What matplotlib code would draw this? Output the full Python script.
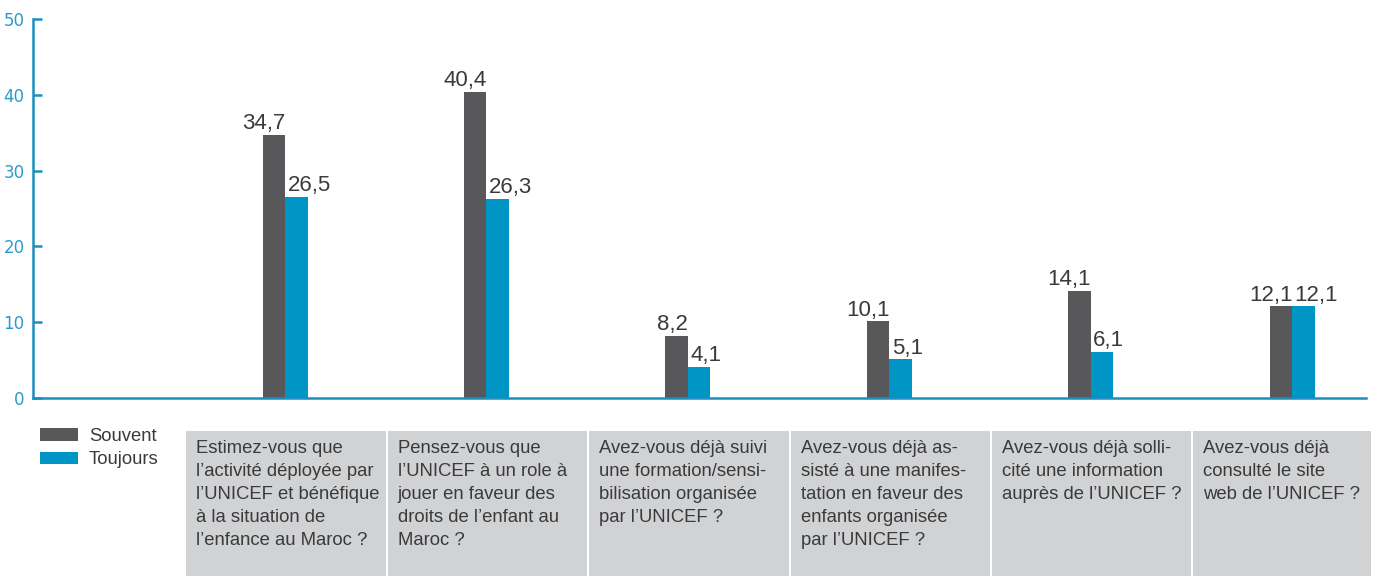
import numpy as np
import matplotlib
matplotlib.use('Agg')
import matplotlib.pyplot as plt
from matplotlib.patches import Rectangle, Patch
from matplotlib.transforms import blended_transform_factory

# data
questions = [
    "Estimez-vous que\nl\u2019activité déployée par\nl\u2019UNICEF et bénéfique\nà la situation de\nl\u2019enfance au Maroc ?",
    "Pensez-vous que\nl\u2019UNICEF à un role à\njouer en faveur des\ndroits de l\u2019enfant au\nMaroc ?",
    "Avez-vous déjà suivi\nune formation/sensi-\nbilisation organisée\npar l\u2019UNICEF ?",
    "Avez-vous déjà as-\nsisté à une manifes-\ntation en faveur des\nenfants organisée\npar l\u2019UNICEF ?",
    "Avez-vous déjà solli-\ncité une information\nauprès de l\u2019UNICEF ?",
    "Avez-vous déjà\nconsulté le site\nweb de l\u2019UNICEF ?",
]
souvent = [34.7, 40.4, 8.2, 10.1, 14.1, 12.1]
toujours = [26.5, 26.3, 4.1, 5.1, 6.1, 12.1]
series_names = ['Souvent', 'Toujours']

gray = '#58585a'
blue = '#0095c4'
axis_blue = '#1a8fc0'
text_col = '#3a3a3a'
box_col = '#d1d2d4'

W, H = 1375, 576
fig = plt.figure(figsize=(W / 100, H / 100), dpi=100)
ax = fig.add_axes([33 / W, 1 - 398 / H, (1366 - 33) / W, (398 - 19) / H])

x = np.arange(len(souvent))
step = 201.4
xmin = (33 - 285) / step
xmax = (1366 - 285) / step
bw = 22.5 / step

ax.bar(x - bw / 2, souvent, bw, color=gray, label=series_names[0])
ax.bar(x + bw / 2, toujours, bw, color=blue, label=series_names[1])

for i in range(len(x)):
    ax.text(x[i] + 0.002, souvent[i] + 0.1, f"{souvent[i]:.1f}".replace('.', ','),
            ha='right', va='bottom', fontsize=16, color=text_col, family='Liberation Sans')
    ax.text(x[i] + 0.012, toujours[i] + 0.1, f"{toujours[i]:.1f}".replace('.', ','),
            ha='left', va='bottom', fontsize=16, color=text_col, family='Liberation Sans')

ax.set_xlim(xmin, xmax)
ax.set_ylim(0, 50)
ax.set_yticks(range(0, 51, 10))
ax.set_xticks([])
for s in ['top', 'right']:
    ax.spines[s].set_visible(False)
for s in ['left', 'bottom']:
    ax.spines[s].set_color(axis_blue)
    ax.spines[s].set_linewidth(1.8)
ax.tick_params(axis='y', direction='in', length=6.5, width=1.8, color=axis_blue,
               labelcolor='#2a9bd0', labelsize=12, pad=6)

# question boxes under the chart
tr = blended_transform_factory(ax.transData, fig.transFigure)
for i, q in enumerate(questions):
    left = i - 0.5 + 2 / step
    right = min(i + 0.5, xmax + 0.025)
    ax.add_patch(Rectangle((left, 0), right - left, 1 - 431 / H, transform=tr,
                           facecolor=box_col, edgecolor='none', clip_on=False))
    ax.text(i - 0.44, 1 - 440 / H, q, transform=tr, ha='left', va='top',
            fontsize=13.3, color=text_col, linespacing=1.47, family='Liberation Sans')

handles = [Patch(facecolor=gray), Patch(facecolor=blue)]
fig.legend(handles, series_names, loc='upper left', bbox_to_anchor=(40 / W, 1 - 428 / H),
           frameon=False, handlelength=2.05, handleheight=0.7, handletextpad=0.6,
           labelspacing=0.35, borderpad=0, borderaxespad=0,
           prop={'family': 'Liberation Sans', 'size': 13.3}, labelcolor=text_col)

fig.savefig('out.png', dpi=100)
